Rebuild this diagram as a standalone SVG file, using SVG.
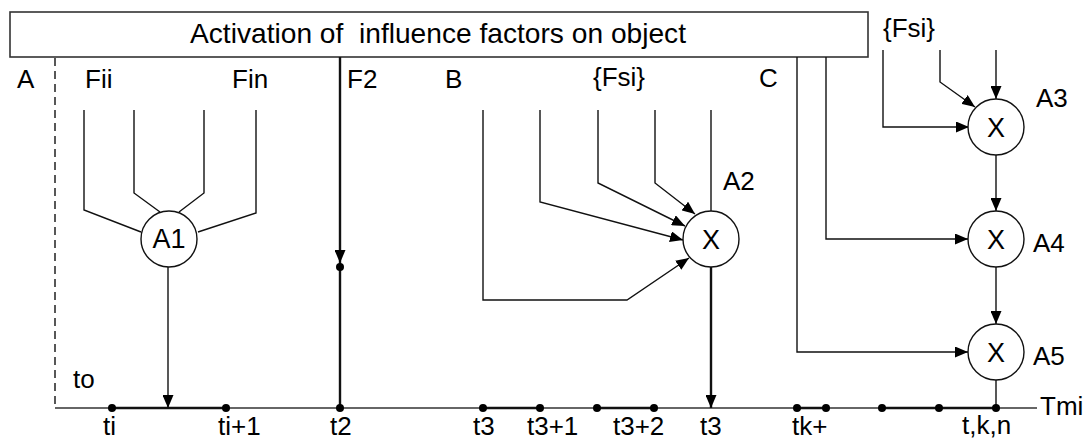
<svg xmlns="http://www.w3.org/2000/svg" width="1089" height="439" viewBox="0 0 1089 439">
<style>
text{font-family:"Liberation Sans",Arial,sans-serif;fill:#000}
.lbl{font-size:26px}
.x{font-size:27px;text-anchor:middle}
.ln{fill:none;stroke:#111;stroke-width:1.4}
.thk{fill:none;stroke:#111;stroke-width:2.4}
.nd{fill:#fff;stroke:#111;stroke-width:1.4}
.dot{fill:#000}
</style>
<defs>
<marker id="ah" viewBox="0 0 13 11" refX="13" refY="5.5" markerWidth="13" markerHeight="11" markerUnits="userSpaceOnUse" orient="auto">
<path d="M0,0 L13,5.5 L0,11 z" fill="#000"/>
</marker>
</defs>
<g id="title">
<rect x="10" y="12" width="858" height="45" fill="#fff" stroke="#333" stroke-width="1.6"/>
<text x="190" y="43" font-size="28" textLength="496" lengthAdjust="spacingAndGlyphs" style="white-space:pre">Activation of  influence factors on object</text>
</g>
<g id="connectors">
<line x1="55" y1="58" x2="55" y2="408" stroke="#111" stroke-width="1.4" stroke-dasharray="8,5"/>
<line x1="55" y1="408" x2="1037" y2="408" stroke="#333" stroke-width="1.4"/>
<path class="thk" d="M112,408H226M483,408H540M597,408H654M797,408H826M882,408H996"/>
<path class="ln" d="M84,110V210L141,232"/>
<path class="ln" d="M134,110V193L160,212"/>
<path class="ln" d="M204,110V193L179,212"/>
<path class="ln" d="M256,110V213L198,232"/>
<path class="ln" d="M168,267V408" marker-end="url(#ah)"/>
<path class="thk" d="M340,57V263" marker-end="url(#ah)"/>
<path class="thk" d="M340,263V408"/>
<path class="ln" d="M483,110V300H627L689,258" marker-end="url(#ah)"/>
<path class="ln" d="M540,110V202L683,240" marker-end="url(#ah)"/>
<path class="ln" d="M598,110V183L685,226" marker-end="url(#ah)"/>
<path class="ln" d="M655,110V183L695,214" marker-end="url(#ah)"/>
<path class="ln" d="M711,110V211"/>
<path class="thk" d="M711,267V408" marker-end="url(#ah)"/>
<path class="ln" d="M883,50V127H969" marker-end="url(#ah)"/>
<path class="ln" d="M940,50V82L975,107" marker-end="url(#ah)"/>
<path class="ln" d="M996,50V99" marker-end="url(#ah)"/>
<path class="ln" d="M826,57V239H968" marker-end="url(#ah)"/>
<path class="ln" d="M797,57V352H968" marker-end="url(#ah)"/>
<path class="ln" d="M996,155V211" marker-end="url(#ah)"/>
<path class="ln" d="M996,267V324" marker-end="url(#ah)"/>
<path class="ln" d="M996,380V408"/>
</g>
<g id="dots">
<circle class="dot" cx="340" cy="267" r="4"/>
<circle class="dot" cx="112" cy="408" r="4"/>
<circle class="dot" cx="226" cy="408" r="4"/>
<circle class="dot" cx="340" cy="408" r="4"/>
<circle class="dot" cx="483" cy="408" r="4"/>
<circle class="dot" cx="540" cy="408" r="4"/>
<circle class="dot" cx="597" cy="408" r="4"/>
<circle class="dot" cx="654" cy="408" r="4"/>
<circle class="dot" cx="797" cy="408" r="4"/>
<circle class="dot" cx="826" cy="408" r="4"/>
<circle class="dot" cx="882" cy="408" r="4"/>
<circle class="dot" cx="939" cy="408" r="4"/>
<circle class="dot" cx="996" cy="408" r="4"/>
</g>
<g id="A1"><circle class="nd" cx="169" cy="239" r="28"/><text class="x" x="169" y="248" font-size="26">A1</text></g>
<g id="A2"><circle class="nd" cx="711" cy="239" r="28"/><text class="x" x="711" y="249">X</text><text class="lbl" x="723" y="190">A2</text></g>
<g id="A3"><circle class="nd" cx="996" cy="127" r="28"/><text class="x" x="996" y="137">X</text><text class="lbl" x="1036" y="107">A3</text></g>
<g id="A4"><circle class="nd" cx="996" cy="239" r="28"/><text class="x" x="996" y="249">X</text><text class="lbl" x="1033" y="252">A4</text></g>
<g id="A5"><circle class="nd" cx="996" cy="352" r="28"/><text class="x" x="996" y="362">X</text><text class="lbl" x="1033" y="365">A5</text></g>
<g id="labels" class="lbl">
<text class="lbl" x="17" y="88">A</text>
<text class="lbl" x="85" y="88">Fii</text>
<text class="lbl" x="232" y="88">Fin</text>
<text class="lbl" x="347" y="88">F2</text>
<text class="lbl" x="445" y="88">B</text>
<text class="lbl" x="593" y="86">{Fsi}</text>
<text class="lbl" x="759" y="87">C</text>
<text class="lbl" x="883" y="37">{Fsi}</text>
<text class="lbl" x="73" y="388">to</text>
<text class="lbl" x="1040" y="415">Tmi</text>
<text class="lbl" x="103" y="435">ti</text>
<text class="lbl" x="218" y="435">ti+1</text>
<text class="lbl" x="330" y="435">t2</text>
<text class="lbl" x="473" y="435">t3</text>
<text class="lbl" x="527" y="435">t3+1</text>
<text class="lbl" x="613" y="435">t3+2</text>
<text class="lbl" x="700" y="435">t3</text>
<text class="lbl" x="792" y="435">tk+</text>
<text class="lbl" x="962" y="434">t,k,n</text>
</g>
</svg>
